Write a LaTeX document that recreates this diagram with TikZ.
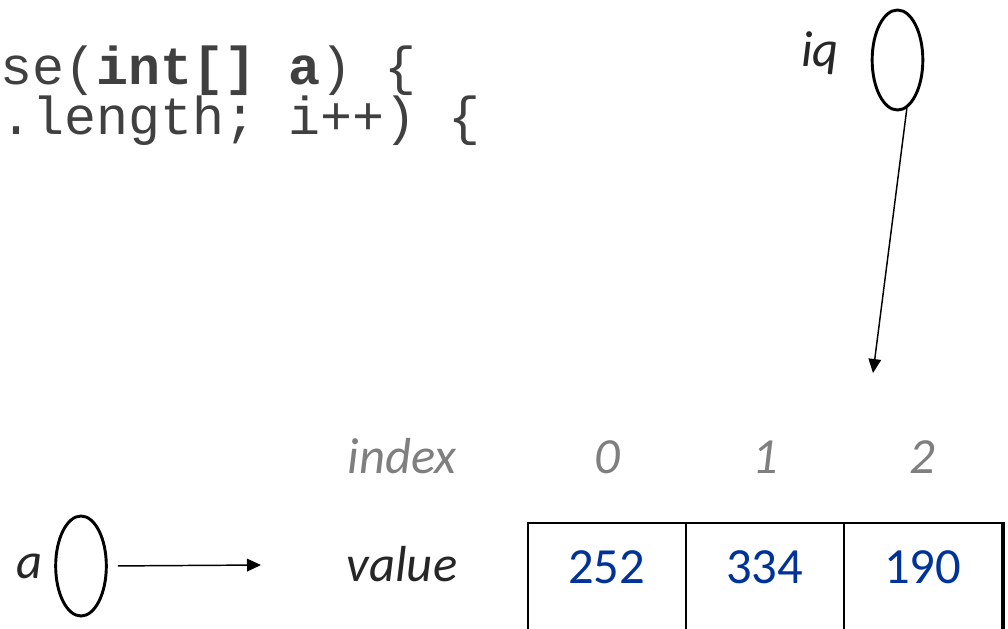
\documentclass[tikz,border=0pt]{standalone}
\usepackage{fontspec}
\setmainfont{Carlito}
\setmonofont{Liberation Mono}
\usetikzlibrary{arrows.meta,shapes.geometric}

\definecolor{codegray}{HTML}{404040}
\definecolor{idxgray}{HTML}{7F7F7F}
\definecolor{valblue}{HTML}{003399}
\definecolor{lblblack}{HTML}{262626}

\newcommand{\lblfont}{\fontsize{38}{46}\selectfont}
\newcommand{\codefont}{\fontsize{40}{48}\selectfont\ttfamily}

\tikzset{
	varoval/.style={ellipse, draw=black, line width=2.2pt, minimum width=38pt, minimum height=75pt, inner sep=0pt},
	lbl/.style={anchor=base, inner sep=0pt, font=\lblfont\itshape},
	cell/.style={draw=black, line width=1.2pt, anchor=north west, inner sep=0pt, minimum width=118.5pt, text height=45.75pt, text depth=57.75pt, font=\lblfont, text=valblue},
	ptr/.style={line width=1.1pt, -{Triangle[length=10.5pt, width=9.5pt]}}
}

\begin{document}
\begin{tikzpicture}[x=0.75pt, y=-0.75pt]
			\useasboundingbox (0,0) rectangle (1008,629);
			\clip (0,0) rectangle (1008,629);

			% Define the code lines
			\node[anchor=base west, inner sep=0pt, font=\codefont, text=codegray] (sig) at (0,84) {se(\textbf{int[] a}) \{};
			\node[anchor=base west, inner sep=0pt, font=\codefont, text=codegray] (loop) at (0,134) {.length; i++) \{};

			% Define the variables
			\node[varoval] (iq) at (897.5,60) {};
			\node[lbl, text=lblblack] (iqlbl) at (820,66) {iq};
			\node[varoval] (aVar) at (81,566) {};
			\node[lbl, text=lblblack] (albl) at (30,578) {a};

			% Define the array
			\node[lbl, text=idxgray] (idxlbl) at (402,473) {index};
			\node[lbl, text=lblblack] (vallbl) at (402,581) {value};
			\node[cell] (c0) at (527,522) {252};
			\node[cell] (c1) at (685,522) {334};
			\node[cell] (c2) at (843,522) {190};
			\node[lbl, text=idxgray] (i0) at (607,473) {0};
			\node[lbl, text=idxgray] (i1) at (765,473) {1};
			\node[lbl, text=idxgray] (i2) at (922,473) {2};
			\draw[line width=3pt] (c2.north east) -- (c2.south east);

			% Draw the references
			\coordinate (aEnd) at (261,565);
			\coordinate (iqEnd) at (873,373);
			\draw[ptr, shorten <=7.5pt] (aVar.east) -- (aEnd);
			\draw[ptr] (iq.-79) -- (iqEnd);

		\end{tikzpicture}
\end{document}
